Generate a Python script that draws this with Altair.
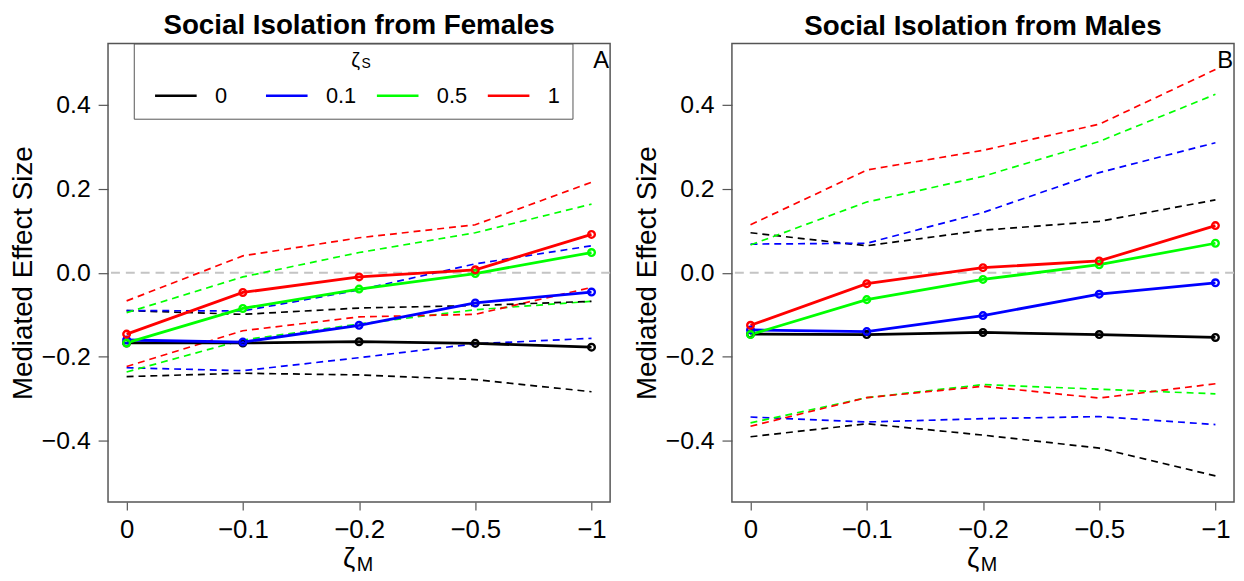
import altair as alt
import pandas as pd

# ---------------- data ----------------
zeta_m_index = [1, 2, 3, 4, 5]
zeta_m_labels = ["0", "−0.1", "−0.2", "−0.5", "−1"]
zeta_s_levels = ["0", "0.1", "0.5", "1"]
zeta_s_colors = ["#000000", "#0000FF", "#00FF00", "#FF0000"]

# Panel A: Social Isolation from Females
fem_est_0 = [-0.167, -0.167, -0.164, -0.168, -0.177]
fem_est_01 = [-0.160, -0.165, -0.125, -0.072, -0.046]
fem_est_05 = [-0.167, -0.085, -0.039, -0.002, 0.048]
fem_est_1 = [-0.146, -0.047, -0.010, 0.007, 0.091]
fem_lo_0 = [-0.247, -0.239, -0.243, -0.254, -0.283]
fem_lo_01 = [-0.226, -0.233, -0.202, -0.169, -0.156]
fem_lo_05 = [-0.236, -0.160, -0.122, -0.088, -0.068]
fem_lo_1 = [-0.223, -0.138, -0.105, -0.099, -0.035]
fem_hi_0 = [-0.090, -0.099, -0.084, -0.078, -0.068]
fem_hi_01 = [-0.090, -0.091, -0.041, 0.021, 0.064]
fem_hi_05 = [-0.095, -0.010, 0.048, 0.095, 0.163]
fem_hi_1 = [-0.067, 0.040, 0.083, 0.114, 0.215]

# Panel B: Social Isolation from Males
mal_est_0 = [-0.146, -0.147, -0.142, -0.147, -0.154]
mal_est_01 = [-0.136, -0.140, -0.102, -0.051, -0.024]
mal_est_05 = [-0.147, -0.064, -0.016, 0.019, 0.070]
mal_est_1 = [-0.125, -0.026, 0.012, 0.028, 0.112]
mal_lo_0 = [-0.390, -0.359, -0.386, -0.417, -0.483]
mal_lo_01 = [-0.343, -0.355, -0.347, -0.342, -0.361]
mal_lo_05 = [-0.357, -0.297, -0.266, -0.277, -0.288]
mal_lo_1 = [-0.365, -0.297, -0.270, -0.298, -0.264]
mal_hi_0 = [0.095, 0.064, 0.101, 0.122, 0.173]
mal_hi_01 = [0.068, 0.070, 0.143, 0.238, 0.309]
mal_hi_05 = [0.066, 0.168, 0.229, 0.312, 0.424]
mal_hi_1 = [0.114, 0.244, 0.291, 0.353, 0.483]

y_ticks = [-0.4, -0.2, 0.0, 0.2, 0.4]

FONT = "Liberation Sans"
W, H = 507, 463


def build_frame(est, lo, hi):
    rows = []
    for lvl, e, l, h in zip(zeta_s_levels, est, lo, hi):
        for i, zm in enumerate(zeta_m_index):
            rows.append({"zm": zm, "zs": lvl, "est": e[i], "lo": l[i], "hi": h[i]})
    return pd.DataFrame(rows)


fem_df = build_frame([fem_est_0, fem_est_01, fem_est_05, fem_est_1],
                     [fem_lo_0, fem_lo_01, fem_lo_05, fem_lo_1],
                     [fem_hi_0, fem_hi_01, fem_hi_05, fem_hi_1])
mal_df = build_frame([mal_est_0, mal_est_01, mal_est_05, mal_est_1],
                     [mal_lo_0, mal_lo_01, mal_lo_05, mal_lo_1],
                     [mal_hi_0, mal_hi_01, mal_hi_05, mal_hi_1])

label_expr = "[" + ",".join("'%s'" % s for s in zeta_m_labels) + "][datum.value - 1]"


def txt(s, size, x, y, align="center"):
    return alt.Chart(pd.DataFrame({"t": [s]})).mark_text(
        fontSize=size, font=FONT, align=align, baseline="alphabetic", color="black"
    ).encode(x=alt.value(x), y=alt.value(y), text="t:N")


def panel(df, title, letter, show_legend):
    xenc = alt.X("zm:Q",
                 scale=alt.Scale(domain=[0.84, 5.16], nice=False, zero=False),
                 axis=alt.Axis(values=zeta_m_index, labelExpr=label_expr, title=None,
                               tickSize=8, labelPadding=7, labelFontSize=26,
                               labelFont=FONT, labelColor="black", domain=False,
                               tickColor="#555", tickWidth=1.2, grid=False))

    def yenc(field):
        return alt.Y(field + ":Q",
                     scale=alt.Scale(domain=[-0.545, 0.545], nice=False, zero=False),
                     axis=alt.Axis(values=y_ticks, format=".1f", title="Mediated Effect Size",
                                   titleFontSize=28, titleFont=FONT, titleFontWeight="normal",
                                   titleColor="black", titlePadding=4,
                                   tickSize=10, labelPadding=8, labelFontSize=25,
                                   labelFont=FONT, labelColor="black", domain=False,
                                   tickColor="#555", tickWidth=1.2, grid=False))

    if show_legend:
        leg = alt.Legend(orient="none", legendX=26, legendY=0, direction="horizontal",
                         columns=4, gridAlign="all", title=" ", titleAnchor="middle",
                         titleFontSize=20, titleFont=FONT, titleFontWeight="normal",
                         titleColor="black", titlePadding=-2,
                         labelFontSize=22, labelFont=FONT, labelColor="black", labelOffset=17,
                         symbolType="stroke", symbolSize=1764, symbolStrokeWidth=2.5,
                         symbolOffset=8, columnPadding=11, padding=12, strokeColor="#555")
    else:
        leg = None
    color = alt.Color("zs:N", scale=alt.Scale(domain=zeta_s_levels, range=zeta_s_colors),
                      legend=leg, sort=zeta_s_levels)

    base = alt.Chart(df)
    zero = alt.Chart(pd.DataFrame({"v": [0.0]})).mark_rule(
        color="#c4c4c4", strokeDash=[9, 6], strokeWidth=2).encode(y=yenc("v"))
    lo = base.mark_line(strokeDash=[7, 5], strokeWidth=1.7).encode(x=xenc, y=yenc("lo"), color=color)
    hi = base.mark_line(strokeDash=[7, 5], strokeWidth=1.7).encode(x=xenc, y=yenc("hi"), color=color)
    est = base.mark_line(strokeWidth=2.8).encode(x=xenc, y=yenc("est"), color=color)
    pts = base.mark_point(filled=False, size=45, strokeWidth=2.4, opacity=1).encode(
        x=xenc, y=yenc("est"), color=color)

    layers = [zero, lo, hi, est, pts,
              txt(letter, 24, W - 9, 25),
              txt("ζ", 28, W / 2 - 10, H + 66),
              txt("M", 20, W / 2 + 6, H + 70)]
    if show_legend:
        layers += [txt("ζ", 20, 250, 24), txt("S", 14, 256, 25, align="left")]

    return alt.layer(*layers).properties(
        width=W, height=H,
        title=alt.TitleParams(title, fontSize=28, font=FONT, fontWeight="bold",
                              anchor="middle", frame="group", offset=3, color="black"))


left = panel(fem_df, "Social Isolation from Females", "A", True)
right = panel(mal_df, "Social Isolation from Males", "B", False)

chart = alt.hconcat(left, right, spacing=20).resolve_scale(color="independent").configure(
    padding={"left": 0, "top": 0, "right": 0, "bottom": 0}
).configure_view(stroke="#555", strokeWidth=1.5)

chart.save("out.html", embed_options={"renderer": "svg", "actions": False})
